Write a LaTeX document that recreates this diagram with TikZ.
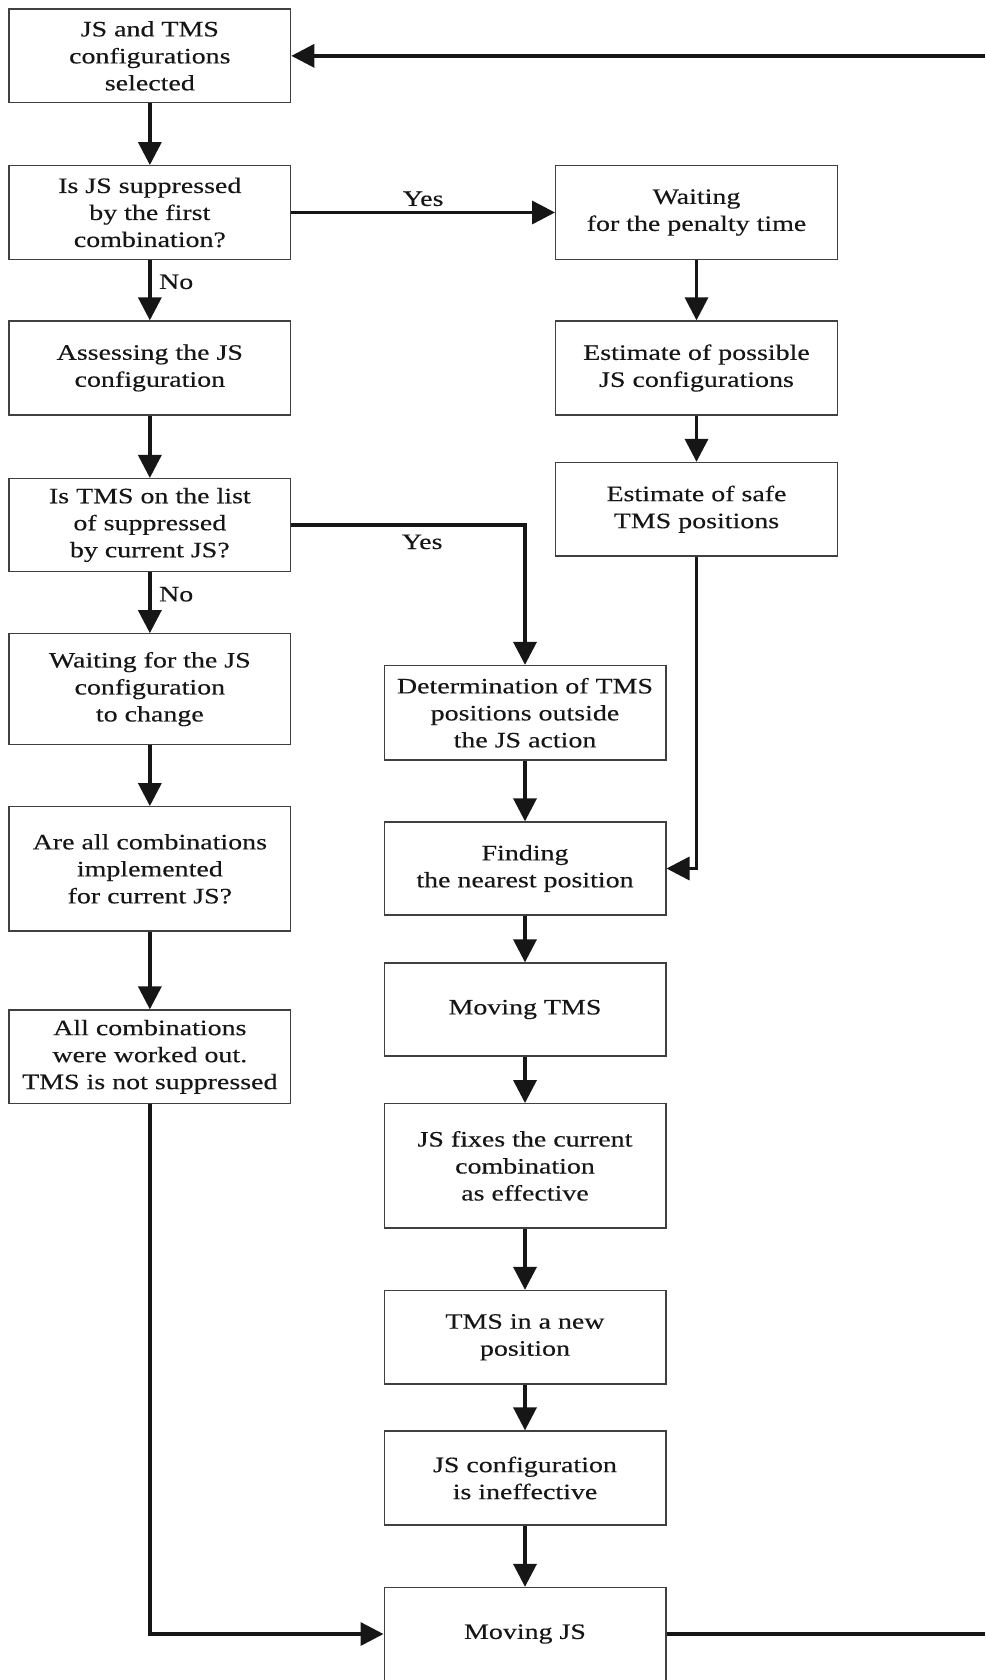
\documentclass[tikz,border=0pt]{standalone}
\usepackage{fontspec}
\setmainfont{Liberation Serif}[FakeStretch=1.27,FakeBold=0.35]
\usetikzlibrary{arrows.meta}
\definecolor{ink}{HTML}{161616}
\definecolor{frame}{HTML}{404040}
\begin{document}
\begin{tikzpicture}[x=1pt,y=-1pt,
  box/.style={draw=frame, line width=1.3pt, minimum width=281.7pt, inner sep=0pt,
    align=center, text=ink, font=\fontsize{22pt}{27pt}\selectfont},
  conn/.style={draw=ink, line width=3.5pt, -{Triangle[length=23pt,width=23pt]}},
  plain/.style={draw=ink, line width=3.5pt},
  lbl/.style={text=ink, font=\fontsize{22pt}{27pt}\selectfont, inner sep=0pt}]
\useasboundingbox (0,0) rectangle (985,1680);

% left column
\node[box, minimum height=93.7pt] (b1) at (149.85,55.85) {JS and TMS\\configurations\\selected};
\node[box, minimum height=93.6pt] (b2) at (149.85,212.5) {Is JS suppressed\\by the first\\combination?};
\node[box, minimum height=94pt] (b3) at (149.85,368) {Assessing the JS\\configuration};
\node[box, minimum height=92.8pt] (b4) at (149.85,525) {Is TMS on the list\\of suppressed\\by current JS?};
\node[box, minimum height=110.6pt] (b5) at (149.85,689.1) {Waiting for the JS\\configuration\\to change};
\node[box, minimum height=124.3pt] (b6) at (149.85,868.85) {Are all combinations\\implemented\\for current JS?};
\node[box, minimum height=93.7pt] (b7) at (149.85,1056.85) {All combinations\\were worked out.\\TMS is not suppressed};

% right column
\node[box, minimum height=93.6pt] (r1) at (696.5,212.5) {Waiting\\for the penalty time};
\node[box, minimum height=94pt] (r2) at (696.5,368) {Estimate of possible\\JS configurations};
\node[box, minimum height=93.5pt] (r3) at (696.5,509.25) {Estimate of safe\\TMS positions};

% middle column
\node[box, minimum height=94.5pt] (m1) at (525,712.75) {Determination of TMS\\positions outside\\the JS action};
\node[box, minimum height=93pt] (m2) at (525,868.5) {Finding\\the nearest position};
\node[box, minimum height=93pt] (m3) at (525,1009.5) {Moving TMS};
\node[box, minimum height=124.3pt] (m4) at (525,1165.85) {JS fixes the current\\combination\\as effective};
\node[box, minimum height=93.5pt] (m5) at (525,1337.25) {TMS in a new\\position};
\node[box, minimum height=94pt] (m6) at (525,1478) {JS configuration\\is ineffective};
\node[box, minimum height=93pt] (m7) at (525,1634) {Moving JS};

\coordinate (eT) at (985,55.85);
\coordinate (eR) at (985,1634);

% connectors
\draw[conn] (eT) -- (b1.east);
\draw[conn] (b1) -- (b2);
\draw[conn] (b2) -- node[lbl, pos=0.48, anchor=base west, xshift=7.5pt] {No} (b3);
\draw[conn] (b2) -- node[lbl, pos=0.5, anchor=base, yshift=6.6pt] {Yes} (r1);
\draw[conn] (b3) -- (b4);
\draw[conn] (b4) -- node[lbl, pos=0.48, anchor=base west, xshift=7.5pt] {No} (b5);
\draw[conn] (b4.east) -| node[lbl, pos=0.28, anchor=base, yshift=-24pt] {Yes} (m1.north);
\draw[conn] (b5) -- (b6);
\draw[conn] (b6) -- (b7);
\draw[conn] (b7.south) |- (m7.west);

\draw[conn] (r1) -- (r2);
\draw[conn] (r2) -- (r3);
\draw[conn] (r3.south) |- (m2.east);

\draw[conn] (m1) -- (m2);
\draw[conn] (m2) -- (m3);
\draw[conn] (m3) -- (m4);
\draw[conn] (m4) -- (m5);
\draw[conn] (m5) -- (m6);
\draw[conn] (m6) -- (m7);
\draw[plain] (m7.east) -- (eR);
\end{tikzpicture}
\end{document}
